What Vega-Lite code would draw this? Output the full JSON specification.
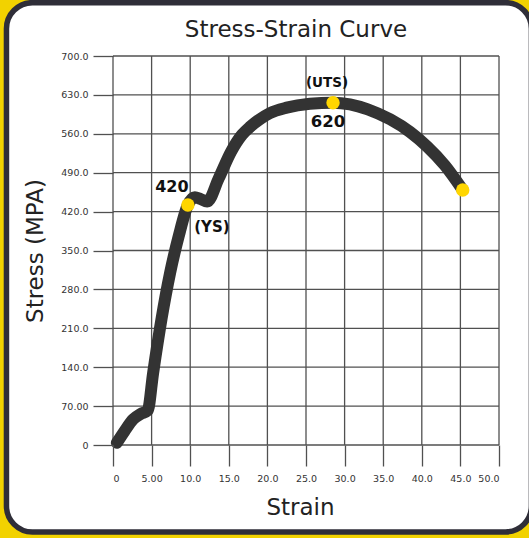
{
  "$schema": "https://vega.github.io/schema/vega-lite/v6.json",
  "width": 386,
  "height": 389,
  "autosize": "none",
  "padding": {"left": 113, "top": 56, "right": 30, "bottom": 93},
  "background": "#F2D200",
  "title": {"text": "Stress-Strain Curve", "font": "DejaVu Sans", "fontSize": 23, "fontWeight": "normal", "color": "#222222", "anchor": "middle", "frame": "group", "dx": -10, "offset": -42},
  "datasets": {
    "curve": [
      {"strain": 0.5, "stress": 4},
      {"strain": 1.5, "stress": 25},
      {"strain": 2.6, "stress": 46},
      {"strain": 3.6, "stress": 56},
      {"strain": 4.5, "stress": 62},
      {"strain": 5.2, "stress": 130},
      {"strain": 6.3, "stress": 228},
      {"strain": 7.4, "stress": 310},
      {"strain": 8.5, "stress": 375},
      {"strain": 9.7, "stress": 432},
      {"strain": 10.6, "stress": 446},
      {"strain": 11.3, "stress": 443},
      {"strain": 12.2, "stress": 438},
      {"strain": 13.7, "stress": 480},
      {"strain": 15.3, "stress": 528},
      {"strain": 16.7, "stress": 558},
      {"strain": 17.8, "stress": 573},
      {"strain": 19.0, "stress": 586},
      {"strain": 20.3, "stress": 597},
      {"strain": 22.5, "stress": 607},
      {"strain": 25.5, "stress": 614},
      {"strain": 28.5, "stress": 616},
      {"strain": 30.7, "stress": 613},
      {"strain": 33.0, "stress": 604},
      {"strain": 35.9, "stress": 586},
      {"strain": 38.5, "stress": 563},
      {"strain": 40.7, "stress": 537},
      {"strain": 43.0, "stress": 503},
      {"strain": 45.3, "stress": 459}
    ],
    "points": [
      {"strain": 9.7, "stress": 432, "value": 420, "tag": "(YS)"},
      {"strain": 28.5, "stress": 616, "value": 620, "tag": "(UTS)"},
      {"strain": 45.3, "stress": 459, "value": null, "tag": ""}
    ],
    "gridx": [
      {"strain": 0, "stress": 0, "stress_end": 700}, {"strain": 5, "stress": 0, "stress_end": 700},
      {"strain": 10, "stress": 0, "stress_end": 700}, {"strain": 15, "stress": 0, "stress_end": 700},
      {"strain": 20, "stress": 0, "stress_end": 700}, {"strain": 25, "stress": 0, "stress_end": 700},
      {"strain": 30, "stress": 0, "stress_end": 700}, {"strain": 35, "stress": 0, "stress_end": 700},
      {"strain": 40, "stress": 0, "stress_end": 700}, {"strain": 45, "stress": 0, "stress_end": 700},
      {"strain": 50, "stress": 0, "stress_end": 700}
    ],
    "gridy": [
      {"stress": 0, "strain": 0, "strain_end": 50}, {"stress": 70, "strain": 0, "strain_end": 50},
      {"stress": 140, "strain": 0, "strain_end": 50}, {"stress": 210, "strain": 0, "strain_end": 50},
      {"stress": 280, "strain": 0, "strain_end": 50}, {"stress": 350, "strain": 0, "strain_end": 50},
      {"stress": 420, "strain": 0, "strain_end": 50}, {"stress": 490, "strain": 0, "strain_end": 50},
      {"stress": 560, "strain": 0, "strain_end": 50}, {"stress": 630, "strain": 0, "strain_end": 50},
      {"stress": 700, "strain": 0, "strain_end": 50}
    ],
    "frame": [{"strain": -13.8, "strain_end": 54.2, "stress": 796, "stress_end": -156.5}]
  },
  "encoding": {
    "x": {
      "field": "strain", "type": "quantitative", "title": "Strain",
      "scale": {"domain": [0, 50], "nice": false, "zero": false},
      "axis": {
        "values": [0, 5, 10, 15, 20, 25, 30, 35, 40, 45, 50],
        "labelExpr": "datum.value == 0 ? '0' : format(datum.value, '.3r')",
        "labelOverlap": false, "zindex": 1, "domain": false, "grid": false,
        "tickSize": 21, "tickColor": "#505050", "tickWidth": 1.3,
        "labelFont": "DejaVu Sans", "labelFontSize": 9.5, "labelColor": "#333333", "labelPadding": 7,
        "titleFont": "DejaVu Sans", "titleFontSize": 23, "titleFontWeight": "normal", "titleColor": "#222222", "titlePadding": 14, "titleX": 187
      }
    },
    "y": {
      "field": "stress", "type": "quantitative", "title": "Stress (MPA)",
      "scale": {"domain": [0, 700], "nice": false, "zero": false},
      "axis": {
        "values": [0, 70, 140, 210, 280, 350, 420, 490, 560, 630, 700],
        "labelExpr": "datum.value == 0 ? '0' : format(datum.value, '.4r')",
        "labelOverlap": false, "zindex": 1, "domain": false, "grid": false,
        "tickSize": 20, "tickColor": "#505050", "tickWidth": 1.3,
        "labelFont": "DejaVu Sans", "labelFontSize": 9.5, "labelColor": "#333333", "labelPadding": 5,
        "titleFont": "DejaVu Sans", "titleFontSize": 23, "titleFontWeight": "normal", "titleColor": "#222222", "titlePadding": 13
      }
    }
  },
  "layer": [
    {
      "data": {"name": "frame"},
      "mark": {"type": "rect", "fill": "white", "stroke": "#2f2e38", "strokeWidth": 5.5, "cornerRadius": 26},
      "encoding": {"x2": {"field": "strain_end"}, "y2": {"field": "stress_end"}}
    },
    {
      "data": {"name": "gridx"},
      "mark": {"type": "rule", "color": "#505050", "strokeWidth": 1.3},
      "encoding": {"y2": {"field": "stress_end"}}
    },
    {
      "data": {"name": "gridy"},
      "mark": {"type": "rule", "color": "#505050", "strokeWidth": 1.3},
      "encoding": {"x2": {"field": "strain_end"}}
    },
    {
      "data": {"name": "curve"},
      "mark": {"type": "line", "color": "#333333", "strokeWidth": 12, "interpolate": "monotone", "strokeCap": "round", "strokeJoin": "round"}
    },
    {
      "data": {"name": "points"},
      "mark": {"type": "circle", "color": "#FFD600", "opacity": 1, "size": 180}
    },
    {
      "data": {"name": "points"},
      "transform": [{"filter": "datum.tag == '(YS)'"}],
      "layer": [
        {
          "mark": {"type": "text", "font": "DejaVu Sans", "fontWeight": "bold", "fontSize": 16, "color": "#111111", "dx": -16, "dy": -18, "align": "center", "baseline": "middle"},
          "encoding": {"text": {"field": "value", "type": "quantitative"}}
        },
        {
          "mark": {"type": "text", "font": "DejaVu Sans", "fontWeight": "bold", "fontSize": 15, "color": "#111111", "dx": 24, "dy": 22, "align": "center", "baseline": "middle"},
          "encoding": {"text": {"field": "tag", "type": "nominal"}}
        }
      ]
    },
    {
      "data": {"name": "points"},
      "transform": [{"filter": "datum.tag == '(UTS)'"}],
      "layer": [
        {
          "mark": {"type": "text", "font": "DejaVu Sans", "fontWeight": "bold", "fontSize": 16.5, "color": "#111111", "dx": -5, "dy": 19, "align": "center", "baseline": "middle"},
          "encoding": {"text": {"field": "value", "type": "quantitative"}}
        },
        {
          "mark": {"type": "text", "font": "DejaVu Sans", "fontWeight": "bold", "fontSize": 13.5, "color": "#111111", "dx": -6, "dy": -20, "align": "center", "baseline": "middle"},
          "encoding": {"text": {"field": "tag", "type": "nominal"}}
        }
      ]
    }
  ]
}
